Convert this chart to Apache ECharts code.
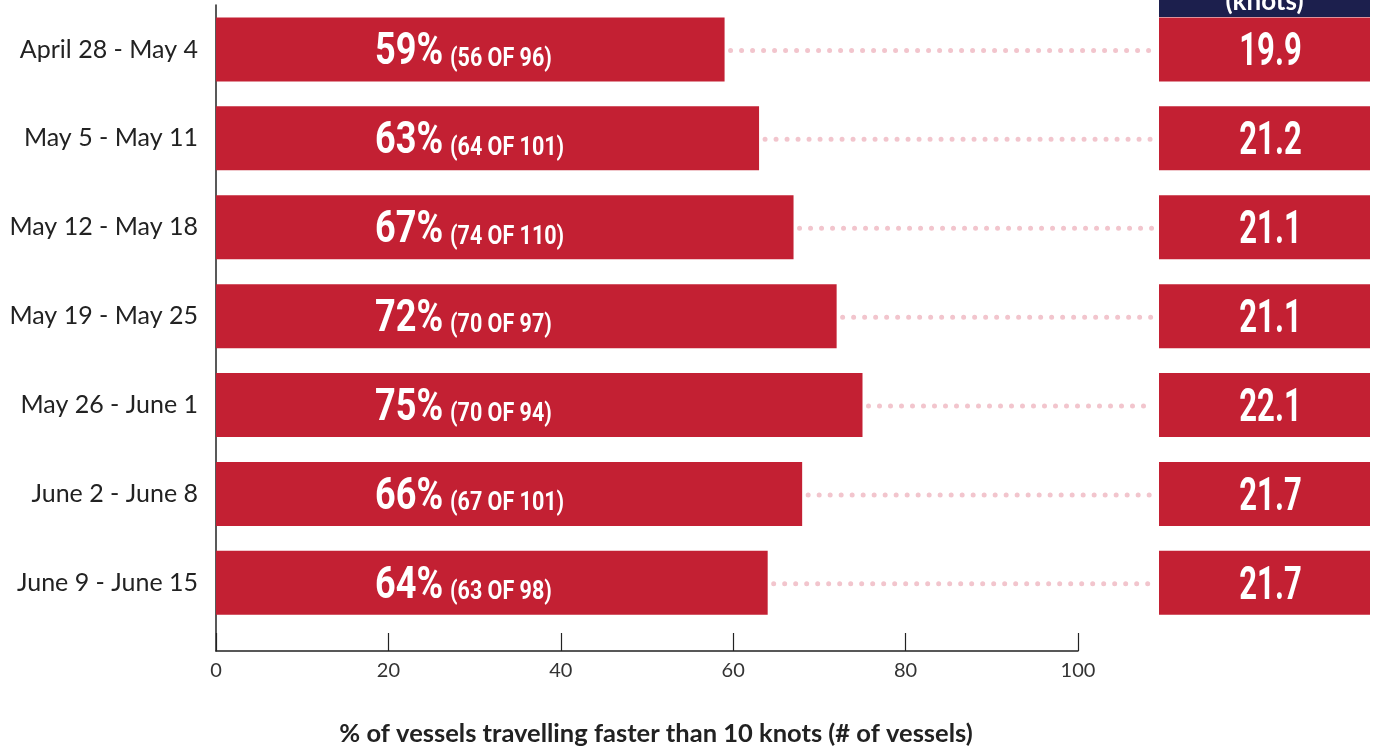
<!DOCTYPE html>
<html>
<head>
<meta charset="utf-8">
<script src="https://cdn.jsdelivr.net/npm/echarts@6/dist/echarts.min.js"></script>
<style>
html,body{margin:0;padding:0;background:#fff;}
#chart{width:1376px;height:749px;}
</style>
</head>
<body>
<div id="chart"></div>
<script>
// ---- data ----
const weeks = ['April 28 - May 4','May 5 - May 11','May 12 - May 18','May 19 - May 25','May 26 - June 1','June 2 - June 8','June 9 - June 15'];
const barValues = [59, 63, 67, 72, 75, 68, 64];          // bar lengths as drawn (%)
const pctLabels = [59, 63, 67, 72, 75, 66, 64];          // printed percentages
const fastCounts = [56, 64, 74, 70, 70, 67, 63];
const totalCounts = [96, 101, 110, 97, 94, 101, 98];
const knots = [19.9, 21.2, 21.1, 21.1, 22.1, 21.7, 21.7];
const xTicks = [0, 20, 40, 60, 80, 100];

const RED = '#c32033';
const NAVY = '#1c1f4d';
const DOT = '#f2c5cd';
const COND = 'Roboto';

const axisLeft = 216, axisWidth = 862, dotEnd = 1155;
const extMax = 100 * (dotEnd - axisLeft) / axisWidth;

// text measuring for condensed (horizontally scaled) labels
const mctx = document.createElement('canvas').getContext('2d');
function textW(font, s) { mctx.font = font; return mctx.measureText(s).width; }
const BIG = { size: 44, scale: 0.82 };
const SMALL = { size: 25, scale: 0.86 };
const KN = { size: 47, scale: 0.66 };

const chart = echarts.init(document.getElementById('chart'));
chart.setOption({
  animation: false,
  backgroundColor: '#fff',
  title: {
    text: '% of vessels travelling faster than 10 knots (# of vessels)',
    left: 651, top: 716, textAlign: 'center',
    textStyle: { fontFamily: 'Lato', fontWeight: 'bold', fontSize: 25.5, color: '#222' }
  },
  grid: [
    { left: axisLeft, top: 5, width: dotEnd - axisLeft, height: 622.3 },
    { left: axisLeft, top: 5, width: axisWidth, bottom: 98 },
    { left: 1159, top: 5, width: 211, height: 622.3 }
  ],
  xAxis: [
    { gridIndex: 0, type: 'value', min: 0, max: extMax, show: false },
    { gridIndex: 1, type: 'value', min: xTicks[0], max: xTicks[xTicks.length - 1], interval: xTicks[1] - xTicks[0],
      axisLine: { show: true, lineStyle: { color: '#222', width: 1.5 } },
      axisTick: { show: true, inside: true, length: 18, lineStyle: { color: '#222', width: 1.2 } },
      axisLabel: { margin: 10, fontFamily: 'Lato', fontSize: 20, color: '#333' },
      splitLine: { show: false } },
    { gridIndex: 2, type: 'value', min: 0, max: 1, show: false }
  ],
  yAxis: [
    { gridIndex: 0, type: 'category', inverse: true, data: weeks,
      axisLine: { show: false }, axisTick: { show: false },
      axisLabel: { margin: 18, fontFamily: 'Lato', fontSize: 25, color: '#222' } },
    { gridIndex: 1, type: 'value', min: 0, max: 1,
      axisLine: { show: true, lineStyle: { color: '#222', width: 1.5 } },
      axisTick: { show: false }, axisLabel: { show: false }, splitLine: { show: false } },
    { gridIndex: 2, type: 'category', inverse: true, data: weeks, show: false }
  ],
  series: [
    { // dotted leader lines
      type: 'custom', xAxisIndex: 0, yAxisIndex: 0, z: 1,
      data: barValues.map((v, i) => [v, i]),
      encode: { x: 0, y: 1 },
      renderItem: function (params, api) {
        const p = api.coord([api.value(0), api.value(1)]);
        const cs = params.coordSys;
        return {
          type: 'line',
          shape: { x1: p[0] + 6, y1: p[1] + 1, x2: cs.x + cs.width - 2, y2: p[1] + 1 },
          style: { stroke: DOT, lineWidth: 5, lineCap: 'round', lineDash: [0, 11] }
        };
      }
    },
    {
      type: 'bar', xAxisIndex: 0, yAxisIndex: 0, z: 2,
      data: barValues, barWidth: 64,
      itemStyle: { color: RED }
    },
    { // bar labels (condensed look via horizontal scaling)
      type: 'custom', xAxisIndex: 0, yAxisIndex: 0, z: 5,
      data: barValues.map((v, i) => [0, i]),
      encode: { x: 0, y: 1 },
      renderItem: function (params, api) {
        const i = params.dataIndex;
        const p = api.coord([api.value(0), api.value(1)]);
        const x0 = p[0] + 159;
        const big = pctLabels[i] + '%';
        const small = '(' + fastCounts[i] + ' OF ' + totalCounts[i] + ')';
        const bigFont = 'bold ' + BIG.size + 'px ' + COND;
        const smallFont = 'bold ' + SMALL.size + 'px ' + COND;
        const wBig = textW(bigFont, big) * BIG.scale;
        return {
          type: 'group',
          children: [
            { type: 'text', x: x0, y: p[1] + 4, scaleX: BIG.scale, originX: 0,
              style: { text: big, font: bigFont, fill: '#fff', align: 'left', verticalAlign: 'middle' } },
            { type: 'text', x: x0 + wBig + 7, y: p[1] + 10, scaleX: SMALL.scale, originX: 0,
              style: { text: small, font: smallFont, fill: '#fff', align: 'left', verticalAlign: 'middle' } }
          ]
        };
      }
    },
    {
      type: 'bar', xAxisIndex: 2, yAxisIndex: 2, z: 2,
      data: knots.map(k => ({ value: 1, knots: k })), barWidth: 64,
      itemStyle: { color: RED }
    },
    { // knots labels
      type: 'custom', xAxisIndex: 2, yAxisIndex: 2, z: 5,
      data: knots.map((k, i) => [0.5, i]),
      encode: { x: 0, y: 1 },
      renderItem: function (params, api) {
        const i = params.dataIndex;
        const p = api.coord([api.value(0), api.value(1)]);
        return {
          type: 'text', x: p[0] + 6, y: p[1] + 4, scaleX: KN.scale,
          style: { text: knots[i].toFixed(1), font: 'bold ' + KN.size + 'px ' + COND, fill: '#fff',
                   align: 'center', verticalAlign: 'middle' }
        };
      }
    }
  ],
  graphic: [
    { type: 'rect', shape: { x: 1159, y: -40, width: 211, height: 57 }, style: { fill: NAVY }, z: 10 },
    { type: 'text', x: 1264.5, y: 15, z: 11,
      style: { text: '(knots)', fill: '#fff', font: 'bold 26px Lato', align: 'center', verticalAlign: 'bottom' } }
  ]
});
</script>
</body>
</html>
